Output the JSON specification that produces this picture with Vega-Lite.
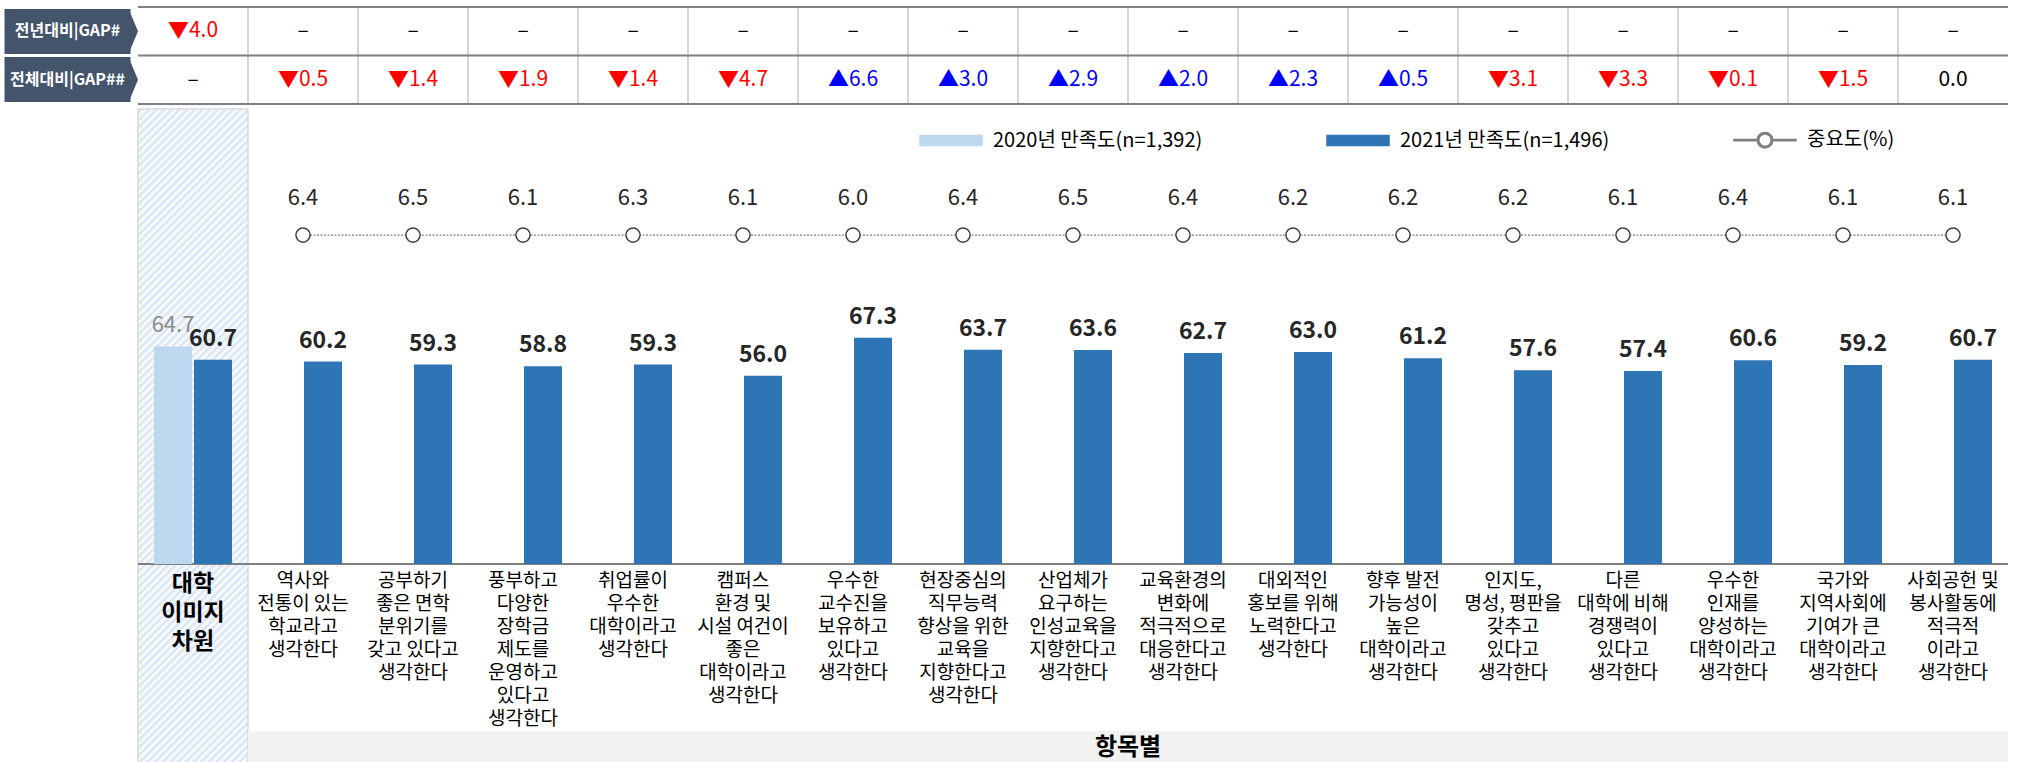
{
"$schema": "https://vega.github.io/schema/vega-lite/v6.json",
"background": "white",
"padding": {"left": -19, "top": 6, "right": 0, "bottom": 0},
"config": {"view": {"stroke": null}, "font": "Noto Sans CJK KR"},
"datasets": {"items": [
{"item":"대학\n이미지\n차원","2020년 만족도(n=1,392)":64.7,"2021년 만족도(n=1,496)":60.7,"imp":null,"전년대비|GAP#":"▼4.0","전체대비|GAP##":"–"},
{"item":"역사와\n전통이 있는\n학교라고\n생각한다","2021년 만족도(n=1,496)":60.2,"imp":6.4,"전년대비|GAP#":"–","전체대비|GAP##":"▼0.5"},
{"item":"공부하기\n좋은 면학\n분위기를\n갖고 있다고\n생각한다","2021년 만족도(n=1,496)":59.3,"imp":6.5,"전년대비|GAP#":"–","전체대비|GAP##":"▼1.4"},
{"item":"풍부하고\n다양한\n장학금\n제도를\n운영하고\n있다고\n생각한다","2021년 만족도(n=1,496)":58.8,"imp":6.1,"전년대비|GAP#":"–","전체대비|GAP##":"▼1.9"},
{"item":"취업률이\n우수한\n대학이라고\n생각한다","2021년 만족도(n=1,496)":59.3,"imp":6.3,"전년대비|GAP#":"–","전체대비|GAP##":"▼1.4"},
{"item":"캠퍼스\n환경 및\n시설 여건이\n좋은\n대학이라고\n생각한다","2021년 만족도(n=1,496)":56.0,"imp":6.1,"전년대비|GAP#":"–","전체대비|GAP##":"▼4.7"},
{"item":"우수한\n교수진을\n보유하고\n있다고\n생각한다","2021년 만족도(n=1,496)":67.3,"imp":6.0,"전년대비|GAP#":"–","전체대비|GAP##":"▲6.6"},
{"item":"현장중심의\n직무능력\n향상을 위한\n교육을\n지향한다고\n생각한다","2021년 만족도(n=1,496)":63.7,"imp":6.4,"전년대비|GAP#":"–","전체대비|GAP##":"▲3.0"},
{"item":"산업체가\n요구하는\n인성교육을\n지향한다고\n생각한다","2021년 만족도(n=1,496)":63.6,"imp":6.5,"전년대비|GAP#":"–","전체대비|GAP##":"▲2.9"},
{"item":"교육환경의\n변화에\n적극적으로\n대응한다고\n생각한다","2021년 만족도(n=1,496)":62.7,"imp":6.4,"전년대비|GAP#":"–","전체대비|GAP##":"▲2.0"},
{"item":"대외적인\n홍보를 위해\n노력한다고\n생각한다","2021년 만족도(n=1,496)":63.0,"imp":6.2,"전년대비|GAP#":"–","전체대비|GAP##":"▲2.3"},
{"item":"향후 발전\n가능성이\n높은\n대학이라고\n생각한다","2021년 만족도(n=1,496)":61.2,"imp":6.2,"전년대비|GAP#":"–","전체대비|GAP##":"▲0.5"},
{"item":"인지도,\n명성, 평판을\n갖추고\n있다고\n생각한다","2021년 만족도(n=1,496)":57.6,"imp":6.2,"전년대비|GAP#":"–","전체대비|GAP##":"▼3.1"},
{"item":"다른\n대학에 비해\n경쟁력이\n있다고\n생각한다","2021년 만족도(n=1,496)":57.4,"imp":6.1,"전년대비|GAP#":"–","전체대비|GAP##":"▼3.3"},
{"item":"우수한\n인재를\n양성하는\n대학이라고\n생각한다","2021년 만족도(n=1,496)":60.6,"imp":6.4,"전년대비|GAP#":"–","전체대비|GAP##":"▼0.1"},
{"item":"국가와\n지역사회에\n기여가 큰\n대학이라고\n생각한다","2021년 만족도(n=1,496)":59.2,"imp":6.1,"전년대비|GAP#":"–","전체대비|GAP##":"▼1.5"},
{"item":"사회공헌 및\n봉사활동에\n적극적\n이라고\n생각한다","2021년 만족도(n=1,496)":60.7,"imp":6.1,"전년대비|GAP#":"–","전체대비|GAP##":"0.0"}
]},
"data": {"name": "items"},
"spacing": 3,
"vconcat": [
 {"width": 1870, "height": 97,
  "transform": [{"fold": ["전년대비|GAP#", "전체대비|GAP##"], "as": ["row", "gap"]}],
  "layer": [
   {"mark": {"type": "text", "fontSize": 21},
    "encoding": {
     "x": {"field": "item", "type": "nominal", "sort": null, "scale": {"type": "band", "paddingInner": 0, "paddingOuter": 0}, "axis": null},
     "y": {"field": "row", "type": "nominal", "sort": null, "scale": {"type": "band", "paddingInner": 0, "paddingOuter": 0},
       "axis": {"orient": "left", "title": null, "domain": false, "grid": false, "ticks": true, "tickSize": 126, "tickWidth": 45, "tickColor": "#44546a", "tickCap": "butt", "offset": 8, "bandPosition": 0.5, "labelColor": "#ffffff", "labelFontWeight": "bold", "labelFontSize": 16, "labelAlign": "center", "labelBaseline": "middle", "labelPadding": -63, "labelLimit": 200, "minExtent": 138, "maxExtent": 138}},
     "text": {"field": "gap"},
     "color": {"condition": [{"test": "indexof(datum.gap, '▼') >= 0", "value": "#ff0000"}, {"test": "indexof(datum.gap, '▲') >= 0", "value": "#0000ff"}], "value": "#000000"}}},
   {"transform": [{"filter": "datum.imp == null"}],
    "mark": {"type": "point", "shape": "M-0.42,-1L0,0L-0.42,1Z", "size": 2025, "filled": true, "fill": "#44546a", "strokeWidth": 0, "opacity": 1},
    "encoding": {"x": {"field": "item", "type": "nominal", "sort": null, "bandPosition": 0}, "y": {"field": "row", "type": "nominal", "sort": null}}},
   {"transform": [{"filter": "datum.imp != null && datum.row == '전년대비|GAP#'"}],
    "mark": {"type": "rule", "color": "#c8c8c8", "strokeWidth": 1.5},
    "encoding": {"x": {"field": "item", "type": "nominal", "sort": null, "bandPosition": 0}}},
   {"transform": [{"filter": "datum.imp == null"}],
    "mark": {"type": "rule", "color": "#7f7f7f", "strokeWidth": 2},
    "encoding": {"y": {"field": "row", "type": "nominal", "sort": null, "bandPosition": 0}}},
   {"transform": [{"filter": "datum.imp == null && datum.row == '전체대비|GAP##'"}],
    "mark": {"type": "rule", "color": "#7f7f7f", "strokeWidth": 2},
    "encoding": {"y": {"field": "row", "type": "nominal", "sort": null, "bandPosition": 1}}}
  ]},
{"width": 1870, "height": 656,
 "layer": [
  {"transform": [{"filter": "datum.imp == null"}],
   "mark": {"type": "rect", "stroke": "#d9d9d9", "strokeWidth": 1.5, "fill": {"gradient": "linear", "x1": 0, "y1": 0, "x2": 0.1904, "y2": 1.1356, "stops": [
{"offset":0,"color":"#fff"},{"offset":0.005,"color":"#d5e3f3"},{"offset":0.01,"color":"#fff"},{"offset":0.015,"color":"#d5e3f3"},{"offset":0.02,"color":"#fff"},{"offset":0.025,"color":"#d5e3f3"},{"offset":0.03,"color":"#fff"},{"offset":0.035,"color":"#d5e3f3"},{"offset":0.04,"color":"#fff"},{"offset":0.045,"color":"#d5e3f3"},
{"offset":0.05,"color":"#fff"},{"offset":0.055,"color":"#d5e3f3"},{"offset":0.06,"color":"#fff"},{"offset":0.065,"color":"#d5e3f3"},{"offset":0.07,"color":"#fff"},{"offset":0.075,"color":"#d5e3f3"},{"offset":0.08,"color":"#fff"},{"offset":0.085,"color":"#d5e3f3"},{"offset":0.09,"color":"#fff"},{"offset":0.095,"color":"#d5e3f3"},
{"offset":0.1,"color":"#fff"},{"offset":0.105,"color":"#d5e3f3"},{"offset":0.11,"color":"#fff"},{"offset":0.115,"color":"#d5e3f3"},{"offset":0.12,"color":"#fff"},{"offset":0.125,"color":"#d5e3f3"},{"offset":0.13,"color":"#fff"},{"offset":0.135,"color":"#d5e3f3"},{"offset":0.14,"color":"#fff"},{"offset":0.145,"color":"#d5e3f3"},
{"offset":0.15,"color":"#fff"},{"offset":0.155,"color":"#d5e3f3"},{"offset":0.16,"color":"#fff"},{"offset":0.165,"color":"#d5e3f3"},{"offset":0.17,"color":"#fff"},{"offset":0.175,"color":"#d5e3f3"},{"offset":0.18,"color":"#fff"},{"offset":0.185,"color":"#d5e3f3"},{"offset":0.19,"color":"#fff"},{"offset":0.195,"color":"#d5e3f3"},
{"offset":0.2,"color":"#fff"},{"offset":0.205,"color":"#d5e3f3"},{"offset":0.21,"color":"#fff"},{"offset":0.215,"color":"#d5e3f3"},{"offset":0.22,"color":"#fff"},{"offset":0.225,"color":"#d5e3f3"},{"offset":0.23,"color":"#fff"},{"offset":0.235,"color":"#d5e3f3"},{"offset":0.24,"color":"#fff"},{"offset":0.245,"color":"#d5e3f3"},
{"offset":0.25,"color":"#fff"},{"offset":0.255,"color":"#d5e3f3"},{"offset":0.26,"color":"#fff"},{"offset":0.265,"color":"#d5e3f3"},{"offset":0.27,"color":"#fff"},{"offset":0.275,"color":"#d5e3f3"},{"offset":0.28,"color":"#fff"},{"offset":0.285,"color":"#d5e3f3"},{"offset":0.29,"color":"#fff"},{"offset":0.295,"color":"#d5e3f3"},
{"offset":0.3,"color":"#fff"},{"offset":0.305,"color":"#d5e3f3"},{"offset":0.31,"color":"#fff"},{"offset":0.315,"color":"#d5e3f3"},{"offset":0.32,"color":"#fff"},{"offset":0.325,"color":"#d5e3f3"},{"offset":0.33,"color":"#fff"},{"offset":0.335,"color":"#d5e3f3"},{"offset":0.34,"color":"#fff"},{"offset":0.345,"color":"#d5e3f3"},
{"offset":0.35,"color":"#fff"},{"offset":0.355,"color":"#d5e3f3"},{"offset":0.36,"color":"#fff"},{"offset":0.365,"color":"#d5e3f3"},{"offset":0.37,"color":"#fff"},{"offset":0.375,"color":"#d5e3f3"},{"offset":0.38,"color":"#fff"},{"offset":0.385,"color":"#d5e3f3"},{"offset":0.39,"color":"#fff"},{"offset":0.395,"color":"#d5e3f3"},
{"offset":0.4,"color":"#fff"},{"offset":0.405,"color":"#d5e3f3"},{"offset":0.41,"color":"#fff"},{"offset":0.415,"color":"#d5e3f3"},{"offset":0.42,"color":"#fff"},{"offset":0.425,"color":"#d5e3f3"},{"offset":0.43,"color":"#fff"},{"offset":0.435,"color":"#d5e3f3"},{"offset":0.44,"color":"#fff"},{"offset":0.445,"color":"#d5e3f3"},
{"offset":0.45,"color":"#fff"},{"offset":0.455,"color":"#d5e3f3"},{"offset":0.46,"color":"#fff"},{"offset":0.465,"color":"#d5e3f3"},{"offset":0.47,"color":"#fff"},{"offset":0.475,"color":"#d5e3f3"},{"offset":0.48,"color":"#fff"},{"offset":0.485,"color":"#d5e3f3"},{"offset":0.49,"color":"#fff"},{"offset":0.495,"color":"#d5e3f3"},
{"offset":0.5,"color":"#fff"},{"offset":0.505,"color":"#d5e3f3"},{"offset":0.51,"color":"#fff"},{"offset":0.515,"color":"#d5e3f3"},{"offset":0.52,"color":"#fff"},{"offset":0.525,"color":"#d5e3f3"},{"offset":0.53,"color":"#fff"},{"offset":0.535,"color":"#d5e3f3"},{"offset":0.54,"color":"#fff"},{"offset":0.545,"color":"#d5e3f3"},
{"offset":0.55,"color":"#fff"},{"offset":0.555,"color":"#d5e3f3"},{"offset":0.56,"color":"#fff"},{"offset":0.565,"color":"#d5e3f3"},{"offset":0.57,"color":"#fff"},{"offset":0.575,"color":"#d5e3f3"},{"offset":0.58,"color":"#fff"},{"offset":0.585,"color":"#d5e3f3"},{"offset":0.59,"color":"#fff"},{"offset":0.595,"color":"#d5e3f3"},
{"offset":0.6,"color":"#fff"},{"offset":0.605,"color":"#d5e3f3"},{"offset":0.61,"color":"#fff"},{"offset":0.615,"color":"#d5e3f3"},{"offset":0.62,"color":"#fff"},{"offset":0.625,"color":"#d5e3f3"},{"offset":0.63,"color":"#fff"},{"offset":0.635,"color":"#d5e3f3"},{"offset":0.64,"color":"#fff"},{"offset":0.645,"color":"#d5e3f3"},
{"offset":0.65,"color":"#fff"},{"offset":0.655,"color":"#d5e3f3"},{"offset":0.66,"color":"#fff"},{"offset":0.665,"color":"#d5e3f3"},{"offset":0.67,"color":"#fff"},{"offset":0.675,"color":"#d5e3f3"},{"offset":0.68,"color":"#fff"},{"offset":0.685,"color":"#d5e3f3"},{"offset":0.69,"color":"#fff"},{"offset":0.695,"color":"#d5e3f3"},
{"offset":0.7,"color":"#fff"},{"offset":0.705,"color":"#d5e3f3"},{"offset":0.71,"color":"#fff"},{"offset":0.715,"color":"#d5e3f3"},{"offset":0.72,"color":"#fff"},{"offset":0.725,"color":"#d5e3f3"},{"offset":0.73,"color":"#fff"},{"offset":0.735,"color":"#d5e3f3"},{"offset":0.74,"color":"#fff"},{"offset":0.745,"color":"#d5e3f3"},
{"offset":0.75,"color":"#fff"},{"offset":0.755,"color":"#d5e3f3"},{"offset":0.76,"color":"#fff"},{"offset":0.765,"color":"#d5e3f3"},{"offset":0.77,"color":"#fff"},{"offset":0.775,"color":"#d5e3f3"},{"offset":0.78,"color":"#fff"},{"offset":0.785,"color":"#d5e3f3"},{"offset":0.79,"color":"#fff"},{"offset":0.795,"color":"#d5e3f3"},
{"offset":0.8,"color":"#fff"},{"offset":0.805,"color":"#d5e3f3"},{"offset":0.81,"color":"#fff"},{"offset":0.815,"color":"#d5e3f3"},{"offset":0.82,"color":"#fff"},{"offset":0.825,"color":"#d5e3f3"},{"offset":0.83,"color":"#fff"},{"offset":0.835,"color":"#d5e3f3"},{"offset":0.84,"color":"#fff"},{"offset":0.845,"color":"#d5e3f3"},
{"offset":0.85,"color":"#fff"},{"offset":0.855,"color":"#d5e3f3"},{"offset":0.86,"color":"#fff"},{"offset":0.865,"color":"#d5e3f3"},{"offset":0.87,"color":"#fff"},{"offset":0.875,"color":"#d5e3f3"},{"offset":0.88,"color":"#fff"},{"offset":0.885,"color":"#d5e3f3"},{"offset":0.89,"color":"#fff"},{"offset":0.895,"color":"#d5e3f3"},
{"offset":0.9,"color":"#fff"},{"offset":0.905,"color":"#d5e3f3"},{"offset":0.91,"color":"#fff"},{"offset":0.915,"color":"#d5e3f3"},{"offset":0.92,"color":"#fff"},{"offset":0.925,"color":"#d5e3f3"},{"offset":0.93,"color":"#fff"},{"offset":0.935,"color":"#d5e3f3"},{"offset":0.94,"color":"#fff"},{"offset":0.945,"color":"#d5e3f3"},
{"offset":0.95,"color":"#fff"},{"offset":0.955,"color":"#d5e3f3"},{"offset":0.96,"color":"#fff"},{"offset":0.965,"color":"#d5e3f3"},{"offset":0.97,"color":"#fff"},{"offset":0.975,"color":"#d5e3f3"},{"offset":0.98,"color":"#fff"},{"offset":0.985,"color":"#d5e3f3"},{"offset":0.99,"color":"#fff"},{"offset":0.995,"color":"#d5e3f3"},
{"offset":1,"color":"#fff"}
]}},
   "encoding": {"x": {"field": "item", "type": "nominal", "sort": null, "scale": {"type": "band", "paddingInner": 0, "paddingOuter": 0}, "axis": null}}},
  {"transform": [{"filter": "datum.imp != null"}],
   "mark": {"type": "rect", "color": "#f2f2f2"},
   "encoding": {"x": {"field": "item", "type": "nominal", "sort": null}, "y": {"datum": -49.7, "type": "quantitative"}, "y2": {"datum": -59.8}}},
  {"transform": [{"filter": "datum.imp == null"}],
   "mark": {"type": "rule", "color": "#808080", "strokeWidth": 2},
   "encoding": {"y": {"datum": 0, "type": "quantitative"}}},
  {"transform": [{"fold": ["2020년 만족도(n=1,392)", "2021년 만족도(n=1,496)"], "as": ["series", "score"]}, {"filter": "isValid(datum.score)"}],
   "mark": {"type": "bar"},
   "encoding": {
    "x": {"field": "item", "type": "nominal", "sort": null},
    "xOffset": {"field": "series", "type": "nominal", "scale": {"domain": ["2020년 만족도(n=1,392)", "2021년 만족도(n=1,496)"], "paddingInner": 0.05, "paddingOuter": 0.4}},
    "y": {"field": "score", "type": "quantitative", "scale": {"domain": [-59.8, 135.3], "nice": false, "zero": false}, "axis": {"labels": false, "ticks": false, "domain": false, "grid": false, "title": null, "minExtent": 138, "maxExtent": 138}},
    "color": {"field": "series", "type": "nominal",
     "scale": {"domain": ["2020년 만족도(n=1,392)", "2021년 만족도(n=1,496)", "중요도(%)"], "range": ["#bdd7ee", "#2e75b6", "#808080"]},
     "legend": {"orient": "none", "legendX": 781, "legendY": 101, "direction": "horizontal", "columns": 3, "gridAlign": "all", "title": null, "padding": 0, "symbolSize": 3844, "labelFontSize": 20, "labelColor": "#000000", "labelOffset": 10, "columnPadding": 121, "labelLimit": 400,
      "encode": {"symbols": {"update": {
       "shape": {"signal": "datum.value === '중요도(%)' ? 'M-1,-0.02L-0.25,-0.02L-0.25,0.02L-1,0.02Z M0.25,-0.02L1,-0.02L1,0.02L0.25,0.02Z M0.25,0A0.25,0.25,0,1,1,-0.25,0A0.25,0.25,0,1,1,0.25,0Z M0.2,0A0.2,0.2,0,1,0,-0.2,0A0.2,0.2,0,1,0,0.2,0Z' : 'M-1,-0.16L1,-0.16L1,0.16L-1,0.16Z'"},
       "opacity": {"value": 1}, "fillOpacity": {"value": 1}}}}}}}},
  {"transform": [{"fold": ["2020년 만족도(n=1,392)", "2021년 만족도(n=1,496)"], "as": ["series", "score"]}, {"filter": {"field": "series", "equal": "2020년 만족도(n=1,392)"}}, {"filter": "isValid(datum.score)"}],
   "mark": {"type": "text", "fontSize": 22, "color": "#8c8c8c", "baseline": "alphabetic", "dy": -14},
   "encoding": {"x": {"field": "item", "type": "nominal", "sort": null}, "xOffset": {"field": "series", "type": "nominal"}, "y": {"field": "score", "type": "quantitative"}, "text": {"field": "score", "type": "quantitative", "format": ".1f"}}},
  {"transform": [{"fold": ["2020년 만족도(n=1,392)", "2021년 만족도(n=1,496)"], "as": ["series", "score"]}, {"filter": {"field": "series", "equal": "2021년 만족도(n=1,496)"}}],
   "mark": {"type": "text", "fontSize": 23, "fontWeight": "bold", "color": "#262626", "baseline": "alphabetic", "dy": -14},
   "encoding": {"x": {"field": "item", "type": "nominal", "sort": null}, "xOffset": {"field": "series", "type": "nominal"}, "y": {"field": "score", "type": "quantitative"}, "text": {"field": "score", "type": "quantitative", "format": ".1f"}}},
  {"transform": [{"filter": "datum.imp != null"}],
   "mark": {"type": "line", "strokeDash": [2, 1.5], "strokeWidth": 1.3},
   "encoding": {"x": {"field": "item", "type": "nominal", "sort": null}, "y": {"datum": 97.8, "type": "quantitative"}, "color": {"datum": "중요도(%)", "type": "nominal"}}},
  {"transform": [{"filter": "datum.imp != null"}],
   "mark": {"type": "point", "shape": "circle", "size": 200, "filled": true, "fill": "#ffffff", "stroke": "#404040", "strokeWidth": 1.5, "opacity": 1},
   "encoding": {"x": {"field": "item", "type": "nominal", "sort": null}, "y": {"datum": 97.8, "type": "quantitative"}}},
  {"transform": [{"filter": "datum.imp != null"}],
   "mark": {"type": "text", "fontSize": 22, "color": "#262626", "baseline": "alphabetic", "dy": -30},
   "encoding": {"x": {"field": "item", "type": "nominal", "sort": null}, "y": {"datum": 97.8, "type": "quantitative"}, "text": {"field": "imp", "type": "quantitative", "format": ".1f"}}},
  {"transform": [{"filter": "datum.imp != null"}],
   "mark": {"type": "text", "fontSize": 19, "color": "#000000", "baseline": "top", "dy": 8, "lineBreak": "\n", "lineHeight": 23},
   "encoding": {"x": {"field": "item", "type": "nominal", "sort": null}, "y": {"datum": 0, "type": "quantitative"}, "text": {"field": "item"}}},
  {"transform": [{"filter": "datum.imp == null"}],
   "mark": {"type": "text", "fontSize": 23, "fontWeight": "bold", "color": "#000000", "baseline": "top", "dy": 9, "lineBreak": "\n", "lineHeight": 29},
   "encoding": {"x": {"field": "item", "type": "nominal", "sort": null}, "y": {"datum": 0, "type": "quantitative"}, "text": {"field": "item"}}},
  {"transform": [{"filter": "datum.imp == null"}],
   "mark": {"type": "text", "fontSize": 24, "fontWeight": "bold", "color": "#000000", "baseline": "middle"},
   "encoding": {"x": {"datum": "교육환경의\n변화에\n적극적으로\n대응한다고\n생각한다", "type": "nominal", "bandPosition": 0}, "y": {"datum": -54.6, "type": "quantitative"}, "text": {"value": "항목별"}}}
 ]}
]
}
